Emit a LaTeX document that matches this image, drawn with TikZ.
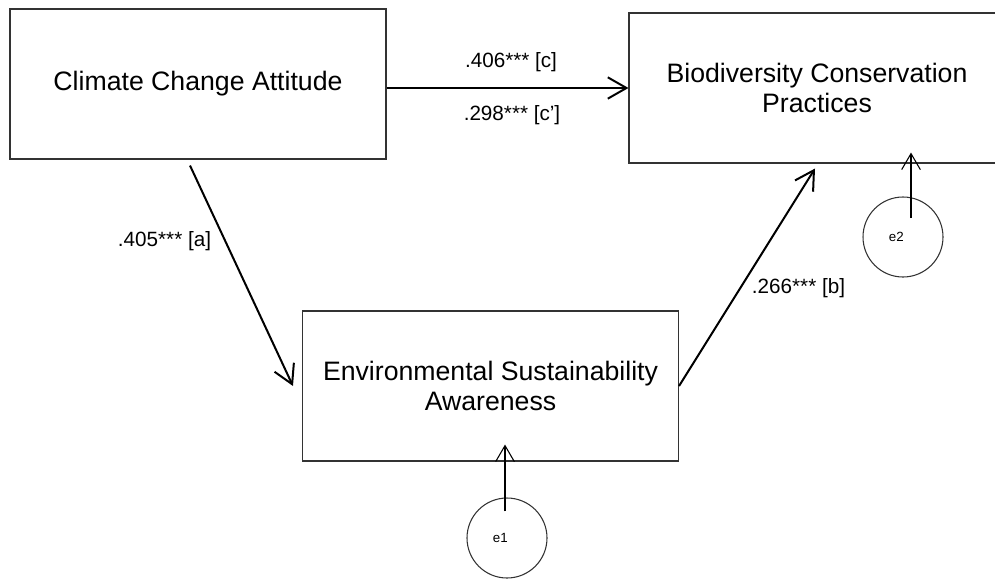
\documentclass[tikz,border=0pt]{standalone}
\usepackage{fontspec}
\setmainfont{Liberation Sans}
\usetikzlibrary{arrows.meta,calc}

\begin{document}
\begin{tikzpicture}[x=0.75pt,y=-0.75pt,
  box/.style={draw=black!80,line width=0.8pt,minimum width=282pt,minimum height=112.5pt,align=center,font=\fontsize{20}{22}\selectfont},
  err/.style={draw=black!80,circle,line width=0.8pt,minimum size=60pt,inner sep=0pt,font=\fontsize{10}{12}\selectfont},
  path/.style={line width=1.5pt,-{Straight Barb[length=14pt,width=16pt]}},
  errpath/.style={line width=0.8pt,-{Straight Barb[length=12pt,width=14pt]}},
  coef/.style={font=\fontsize{15.5}{17}\selectfont}]
  \useasboundingbox (0,0) rectangle (995,579);
  % variables
  \node[box] (cca) at (198,84) {Climate Change Attitude};
  \node[box] (bcp) at (817,88) {Biodiversity Conservation\\Practices};
  \node[box] (esa) at (490.5,386) {Environmental Sustainability\\Awareness};
  % error terms
  \node[err] (e1) at (507,538) {\hspace*{-10pt}e1};
  \node[err] (e2) at (903,237) {\hspace*{-10pt}e2};
  % paths
  \draw[path] (cca.east |- bcp.west) -- (bcp.west);
  \draw[path] ([xshift=-6pt,yshift=-4.5pt]cca.south) -- ([xshift=-6.75pt]esa.west);
  \draw[path] (esa.east) -- ([xshift=-1.5pt,yshift=-3.75pt]bcp.south);
  \draw[errpath] ([xshift=-1.5pt,yshift=20pt]e1.center) -- ($(esa.south -| e1.center)+(-1.5pt,12.75pt)$);
  \draw[errpath] ([xshift=6pt,yshift=14.25pt]e2.center) -- ($(bcp.south -| e2.center)+(6pt,8.25pt)$);
  % coefficients
  \node[coef] (c) at (511,62) {.406*** [c]};
  \node[coef] (cp) at (512,115) {.298*** [c']};
  \node[coef] (a) at (164.5,241) {.405*** [a]};
  \node[coef] (b) at (798.5,288) {.266*** [b]};
\end{tikzpicture}
\end{document}
